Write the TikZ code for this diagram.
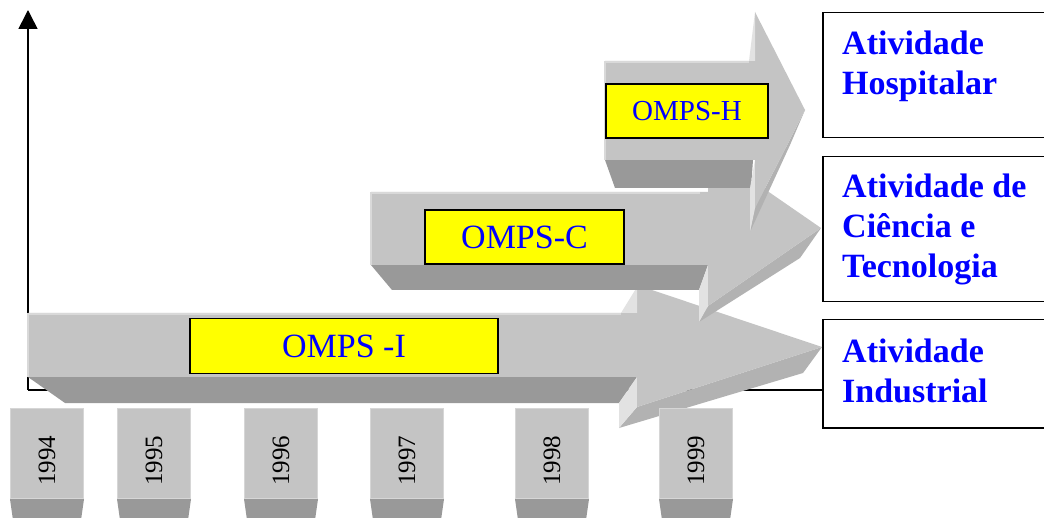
\documentclass[tikz,border=0pt]{standalone}
\usepackage{fontspec}
\setmainfont{Liberation Serif}
\usepackage{tikz}
\usetikzlibrary{arrows.meta, positioning, calc}
\definecolor{cinzaFrente}{RGB}{196,196,196}
\definecolor{cinzaLado}{RGB}{153,153,153}
\definecolor{cinzaBisel}{RGB}{178,178,178}
\definecolor{cinzaClaro}{RGB}{226,226,226}
\definecolor{azulTexto}{RGB}{0,0,255}
\definecolor{amarelo}{RGB}{255,255,0}

\begin{document}
\begin{tikzpicture}[x=1pt, y=-1pt,
    rotulo/.style={draw=black, line width=1.5pt, fill=amarelo, text=azulTexto, inner sep=0pt, font=\fontsize{34}{40}\selectfont},
    atividade/.style={draw=black, line width=1.5pt, fill=white, inner sep=0pt, anchor=north west, minimum width=224pt},
    textoAtiv/.style={text=azulTexto, font=\fontsize{34}{40}\selectfont\bfseries, align=left, anchor=north west, inner sep=0pt},
    anoTab/.style={fill=cinzaFrente, draw=cinzaClaro!60!cinzaFrente, line width=1pt, minimum width=73pt, minimum height=90pt, inner sep=0pt, anchor=north west, font=\fontsize{25}{25}\selectfont},
    eixo/.style={line width=1.6pt, black}
  ]
    \clip (0,0) rectangle (1044,518);
    \fill[white] (0,0) rectangle (1044,518);

    \node[atividade, minimum height=125pt] (ativH) at (822,12) {};
    \node[atividade, minimum height=145pt] (ativC) at (822,156) {};
    \node[atividade, minimum height=108pt] (ativI) at (822,319) {};

    \coordinate (origem) at (28,390);
    \coordinate (topoEixo) at (28,10);
    \draw[eixo] (origem) -- (ativI.west |- origem);
    \draw[eixo, -{Triangle[length=19pt, width=19pt]}] (origem) -- (topoEixo);

    % seta OMPS-I
    \fill[cinzaLado] (28,377) -- (637,377) -- (619,403) -- (65,403) -- cycle;
    \fill[cinzaBisel] (637,407) -- (822,347) -- (803,373) -- (619,428) -- cycle;
    \fill[cinzaClaro] (637,377) -- (637,407) -- (619,428) -- (619,403) -- cycle;
    \fill[cinzaFrente] (28,313) -- (637,313) -- (637,285) -- (822,347) -- (637,407) -- (637,377) -- (28,377) -- cycle;
    \fill[cinzaClaro] (621,313) -- (637,287) -- (637,313) -- cycle;
    \draw[cinzaClaro!70!cinzaFrente, line width=2pt] (28,377) -- (28,314) -- (621,314);

    % seta OMPS-C
    \fill[cinzaLado] (371,265) -- (708,265) -- (699,290) -- (392,290) -- cycle;
    \fill[cinzaBisel] (708,306) -- (821,228) -- (800,258) -- (699,322) -- cycle;
    \fill[cinzaClaro] (708,265) -- (708,306) -- (699,322) -- (699,290) -- cycle;
    \fill[cinzaFrente] (371,192) -- (708,192) -- (708,150) -- (821,228) -- (708,306) -- (708,265) -- (371,265) -- cycle;
    \draw[cinzaClaro!70!cinzaFrente, line width=2pt] (371,265) -- (371,193) -- (700,193);

    % seta OMPS-H
    \fill[cinzaLado] (605,160) -- (753,160) -- (751,188) -- (615,188) -- cycle;
    \fill[cinzaBisel] (755,208) -- (805,110) -- (790,145) -- (750,232) -- cycle;
    \fill[cinzaClaro] (755,160) -- (755,208) -- (750,232) -- (750,188) -- cycle;
    \fill[cinzaFrente] (605,61) -- (755,61) -- (755,12) -- (805,110) -- (755,208) -- (755,160) -- (605,160) -- cycle;
    \fill[cinzaClaro] (749,61) -- (755,12) -- (755,61) -- cycle;
    \draw[cinzaClaro!70!cinzaFrente, line width=2pt] (605,160) -- (605,62) -- (749,62);

    \node[rotulo, minimum width=308pt, minimum height=55pt] (ompsI) at (344,346) {OMPS -I};
    \node[rotulo, minimum width=199pt, minimum height=54pt] (ompsC) at (524.5,237) {OMPS-C};
    \node[rotulo, minimum width=162pt, minimum height=54pt, font=\fontsize{29}{34}\selectfont] (ompsH) at (687,111) {OMPS-H};

    \node[textoAtiv] (txtH) at (842,31) {Atividade\\Hospitalar};
    \node[textoAtiv] (txtC) at (842,174) {Atividade de\\Ciência e\\Tecnologia};
    \node[textoAtiv] (txtI) at (842,339) {Atividade\\Industrial};

    \node[anoTab] (a1994) at (10,408) {\rotatebox{90}{1994\hspace{14pt}}};
    \node[anoTab] (a1995) at (117,408) {\rotatebox{90}{1995\hspace{14pt}}};
    \node[anoTab] (a1996) at (244,408) {\rotatebox{90}{1996\hspace{14pt}}};
    \node[anoTab] (a1997) at (370,408) {\rotatebox{90}{1997\hspace{14pt}}};
    \node[anoTab] (a1998) at (515,408) {\rotatebox{90}{1998\hspace{14pt}}};
    \node[anoTab] (a1999) at (659,408) {\rotatebox{90}{1999\hspace{14pt}}};
    \fill[cinzaLado] (a1994.south west) -- (a1994.south east) -- ($(a1994.south east)+(-3,21)$) -- ($(a1994.south west)+(3,21)$) -- cycle;
    \fill[cinzaLado] (a1995.south west) -- (a1995.south east) -- ($(a1995.south east)+(-3,21)$) -- ($(a1995.south west)+(3,21)$) -- cycle;
    \fill[cinzaLado] (a1996.south west) -- (a1996.south east) -- ($(a1996.south east)+(-3,21)$) -- ($(a1996.south west)+(3,21)$) -- cycle;
    \fill[cinzaLado] (a1997.south west) -- (a1997.south east) -- ($(a1997.south east)+(-3,21)$) -- ($(a1997.south west)+(3,21)$) -- cycle;
    \fill[cinzaLado] (a1998.south west) -- (a1998.south east) -- ($(a1998.south east)+(-3,21)$) -- ($(a1998.south west)+(3,21)$) -- cycle;
    \fill[cinzaLado] (a1999.south west) -- (a1999.south east) -- ($(a1999.south east)+(-3,21)$) -- ($(a1999.south west)+(3,21)$) -- cycle;
  \end{tikzpicture}
\end{document}
